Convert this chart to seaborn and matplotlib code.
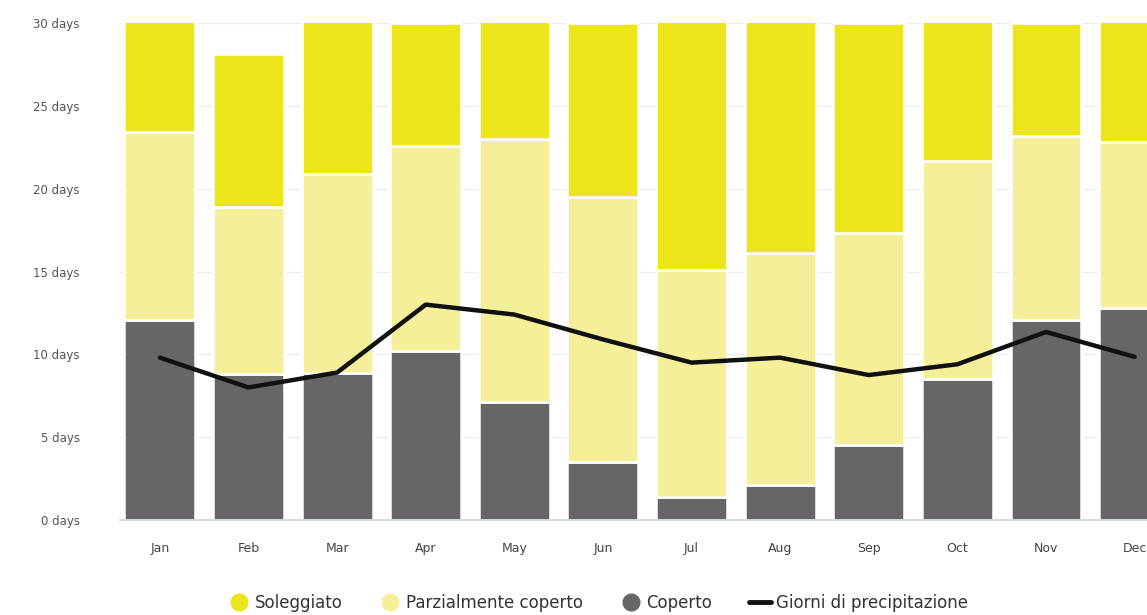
import matplotlib
matplotlib.use("Agg")
import matplotlib.pyplot as plt
from matplotlib.lines import Line2D
import seaborn as sns
import pandas as pd
import numpy as np

months = ["Jan", "Feb", "Mar", "Apr", "May", "Jun", "Jul", "Aug", "Sep", "Oct", "Nov", "Dec"]
overcast = [12.1, 8.8, 8.9, 10.2, 7.1, 3.5, 1.4, 2.1, 4.5, 8.5, 12.1, 12.8]
partly = [11.3, 10.1, 12.0, 12.4, 15.9, 16.0, 13.7, 14.0, 12.8, 13.2, 11.1, 10.0]
sunny = [7.6, 9.2, 10.1, 7.4, 8.0, 10.5, 15.9, 14.9, 12.7, 9.3, 6.8, 8.2]
precip = [9.8, 8.0, 8.9, 13.0, 12.4, 10.9, 9.5, 9.8, 8.75, 9.4, 11.35, 9.85]
yticks = [0, 5, 10, 15, 20, 25, 30]
ytick_labels = ["0 days", "5 days", "10 days", "15 days", "20 days", "25 days", "30 days"]
legend_labels = ["Soleggiato", "Parzialmente coperto", "Coperto", "Giorni di precipitazione"]

c_sunny = "#ECE51C"
c_partly = "#F5EF9A"
c_over = "#666666"

df = pd.DataFrame({"month": months, "overcast": overcast, "partly": partly,
                   "sunny": sunny, "precip": precip})
df["b_partly"] = df["overcast"]
df["b_sunny"] = df["overcast"] + df["partly"]

sns.set_style("white")
plt.rcParams["font.family"] = ["DejaVu Sans"]

fig = plt.figure(figsize=(11.47, 6.15), dpi=100)
ax = fig.add_axes([120/1147, 95/615, 1027/1147, 497/615])

for y in yticks:
    ax.axhline(y, color="#ececec", lw=0.8, zorder=0)

kw = dict(width=0.8, edgecolor="white", linewidth=1.8, ax=ax, saturation=1, zorder=2)
sns.barplot(data=df, x="month", y="overcast", color=c_over, **kw)
sns.barplot(data=df, x="month", y="partly", bottom=df["b_partly"], color=c_partly, **kw)
sns.barplot(data=df, x="month", y="sunny", bottom=df["b_sunny"], color=c_sunny, **kw)
sns.lineplot(data=df, x="month", y="precip", color="#111111", lw=3.2, ax=ax, zorder=3,
             sort=False)

ax.set_ylim(0, 30)
ax.set_xlim(-0.45, 11.14)
ax.set_yticks(yticks)
ax.set_yticklabels(ytick_labels, fontsize=8.5, color="#555555")
ax.set_xticks(range(12))
ax.set_xticklabels(months, fontsize=9, color="#444444")
ax.set_xlabel("")
ax.set_ylabel("")
for s in ["top", "right", "left"]:
    ax.spines[s].set_visible(False)
ax.spines["bottom"].set_color("#ccd6eb")
ax.spines["bottom"].set_linewidth(1.2)
ax.tick_params(axis="x", length=10, color="#ccd6eb", pad=6, width=1)
ax.tick_params(axis="y", length=0, pad=29)

handles = [
    Line2D([], [], marker="o", ls="", color=c_sunny, markersize=12),
    Line2D([], [], marker="o", ls="", color=c_partly, markersize=12),
    Line2D([], [], marker="o", ls="", color=c_over, markersize=12),
    Line2D([], [], color="#111111", lw=3.5),
]
fig.legend(handles, legend_labels, loc="center", bbox_to_anchor=(598/1147, 1 - 603/615),
           ncol=4, frameon=False, fontsize=12, handlelength=1.3, handletextpad=0.3,
           columnspacing=2.2, labelcolor="#333333")

fig.savefig("out.png", dpi=100)
